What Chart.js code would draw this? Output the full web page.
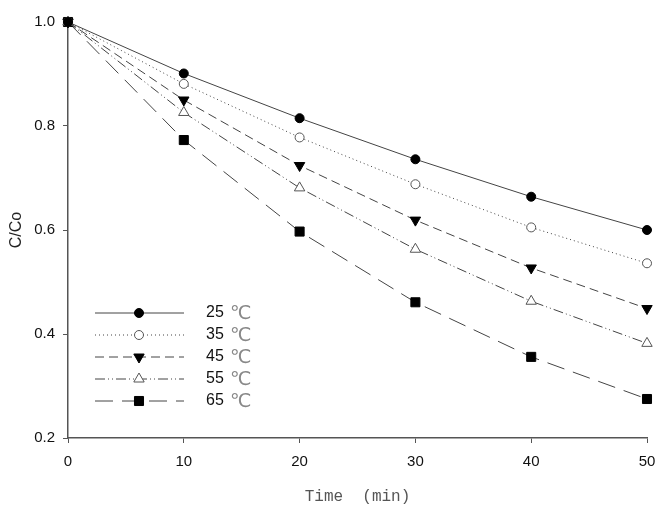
<!DOCTYPE html>
<html>
<head>
<meta charset="utf-8">
<script src="https://cdn.jsdelivr.net/npm/chart.js@4"></script>
<style>
  body { margin: 0; background: #fff; }
  #wrap { width: 672px; height: 514px; }
</style>
</head>
<body>
<div id="wrap"><canvas id="rateChart"></canvas></div>
<script>
// values
const times = [0, 10, 20, 30, 40, 50];
const c25 = [1.0, 0.901, 0.815, 0.736, 0.664, 0.600];
const c35 = [1.0, 0.881, 0.778, 0.688, 0.605, 0.536];
const c45 = [1.0, 0.850, 0.724, 0.619, 0.527, 0.449];
const c55 = [1.0, 0.826, 0.681, 0.563, 0.463, 0.382];
const c65 = [1.0, 0.773, 0.597, 0.461, 0.356, 0.275];
const seriesLabels = ['25', '35', '45', '55', '65'];
const yTicks = [0.2, 0.4, 0.6, 0.8, 1.0];

function toPoints(vals) {
    return vals.map((v, i) => ({ x: times[i], y: v }));
}

const lineColor = '#444';

function series(label, vals, dash, style, radius, filled, rotation) {
    return {
        label: label,
        data: toPoints(vals),
        borderColor: lineColor,
        borderWidth: 1,
        borderDash: dash,
        pointStyle: style,
        pointRadius: radius,
        pointRotation: rotation || 0,
        pointBackgroundColor: filled ? '#000' : '#fff',
        pointBorderColor: filled ? '#000' : '#555',
        pointBorderWidth: 1,
        tension: 0,
        fill: false,
        clip: false
    };
}

// legend drawn like the original: long line sample with marker in the middle
const sampleLegend = {
    id: 'sampleLegend',
    afterDraw(chart) {
        const ctx = chart.ctx;
        chart.data.datasets.forEach((ds, i) => {
            const y = 313 + i * 22;
            ctx.save();
            ctx.strokeStyle = ds.borderColor;
            ctx.lineWidth = 1;
            ctx.setLineDash(ds.borderDash);
            ctx.beginPath();
            ctx.moveTo(95, y);
            ctx.lineTo(184, y);
            ctx.stroke();
            ctx.setLineDash([]);
            ctx.fillStyle = ds.pointBackgroundColor;
            ctx.strokeStyle = ds.pointBorderColor;
            ctx.lineWidth = 1;
            Chart.helpers.drawPoint(ctx, {
                pointStyle: ds.pointStyle,
                rotation: ds.pointRotation,
                radius: ds.pointRadius,
                borderWidth: 1
            }, 139, y);
            ctx.textBaseline = 'middle';
            ctx.fillStyle = '#111';
            ctx.font = '16px "Liberation Sans", Arial, sans-serif';
            ctx.fillText(ds.label, 206, y);
            ctx.fillStyle = '#888';
            ctx.font = '19px "DejaVu Sans", "Noto Sans CJK SC", sans-serif';
            ctx.fillText('℃', 230, y + 1);
            ctx.restore();
        });
    }
};

const ctx = document.getElementById('rateChart').getContext('2d');
const rateChart = new Chart(ctx, {
    type: 'line',
    data: {
        datasets: [
            series(seriesLabels[0], c25, [], 'circle', 4.5, true),
            series(seriesLabels[1], c35, [1, 3], 'circle', 4.5, false),
            series(seriesLabels[2], c45, [9, 5], 'triangle', 6, true, 180),
            series(seriesLabels[3], c55, [10, 3, 1, 3, 1, 3], 'triangle', 6, false),
            series(seriesLabels[4], c65, [18, 9], 'rect', 6.4, true)
        ]
    },
    options: {
        responsive: true,
        maintainAspectRatio: false,
        animation: false,
        layout: { padding: { top: 22, right: 25, left: 0, bottom: 0 } },
        plugins: {
            legend: { display: false },
            tooltip: { enabled: false }
        },
        scales: {
            x: {
                type: 'linear',
                min: 0,
                max: 50,
                afterFit: s => { s.height = 76; },
                ticks: {
                    stepSize: 10,
                    padding: 10,
                    color: '#111',
                    font: { family: '"Liberation Sans", Arial, sans-serif', size: 15 }
                },
                grid: { drawOnChartArea: false, drawTicks: true, tickLength: 5, color: '#555' },
                border: { display: true, color: '#555', width: 1.5 },
                title: {
                    display: true,
                    text: 'Time  (min)',
                    color: '#555',
                    padding: { top: 0, bottom: 8 },
                    font: { family: '"Liberation Mono", monospace', size: 16 }
                }
            },
            y: {
                type: 'linear',
                min: 0.2,
                max: 1.0,
                afterFit: s => { s.width = 68; },
                afterBuildTicks: s => { s.ticks = yTicks.map(v => ({ value: v })); },
                ticks: {
                    padding: 8,
                    color: '#111',
                    callback: v => v.toFixed(1),
                    font: { family: '"Liberation Sans", Arial, sans-serif', size: 15 }
                },
                grid: { drawOnChartArea: false, drawTicks: true, tickLength: 5, color: '#555' },
                border: { display: true, color: '#555', width: 1.5 },
                title: {
                    display: true,
                    text: 'C/Co',
                    color: '#222',
                    padding: { top: 7, bottom: 0 },
                    font: { family: '"Liberation Sans", Arial, sans-serif', size: 16 }
                }
            }
        }
    },
    plugins: [sampleLegend]
});
</script>
</body>
</html>
